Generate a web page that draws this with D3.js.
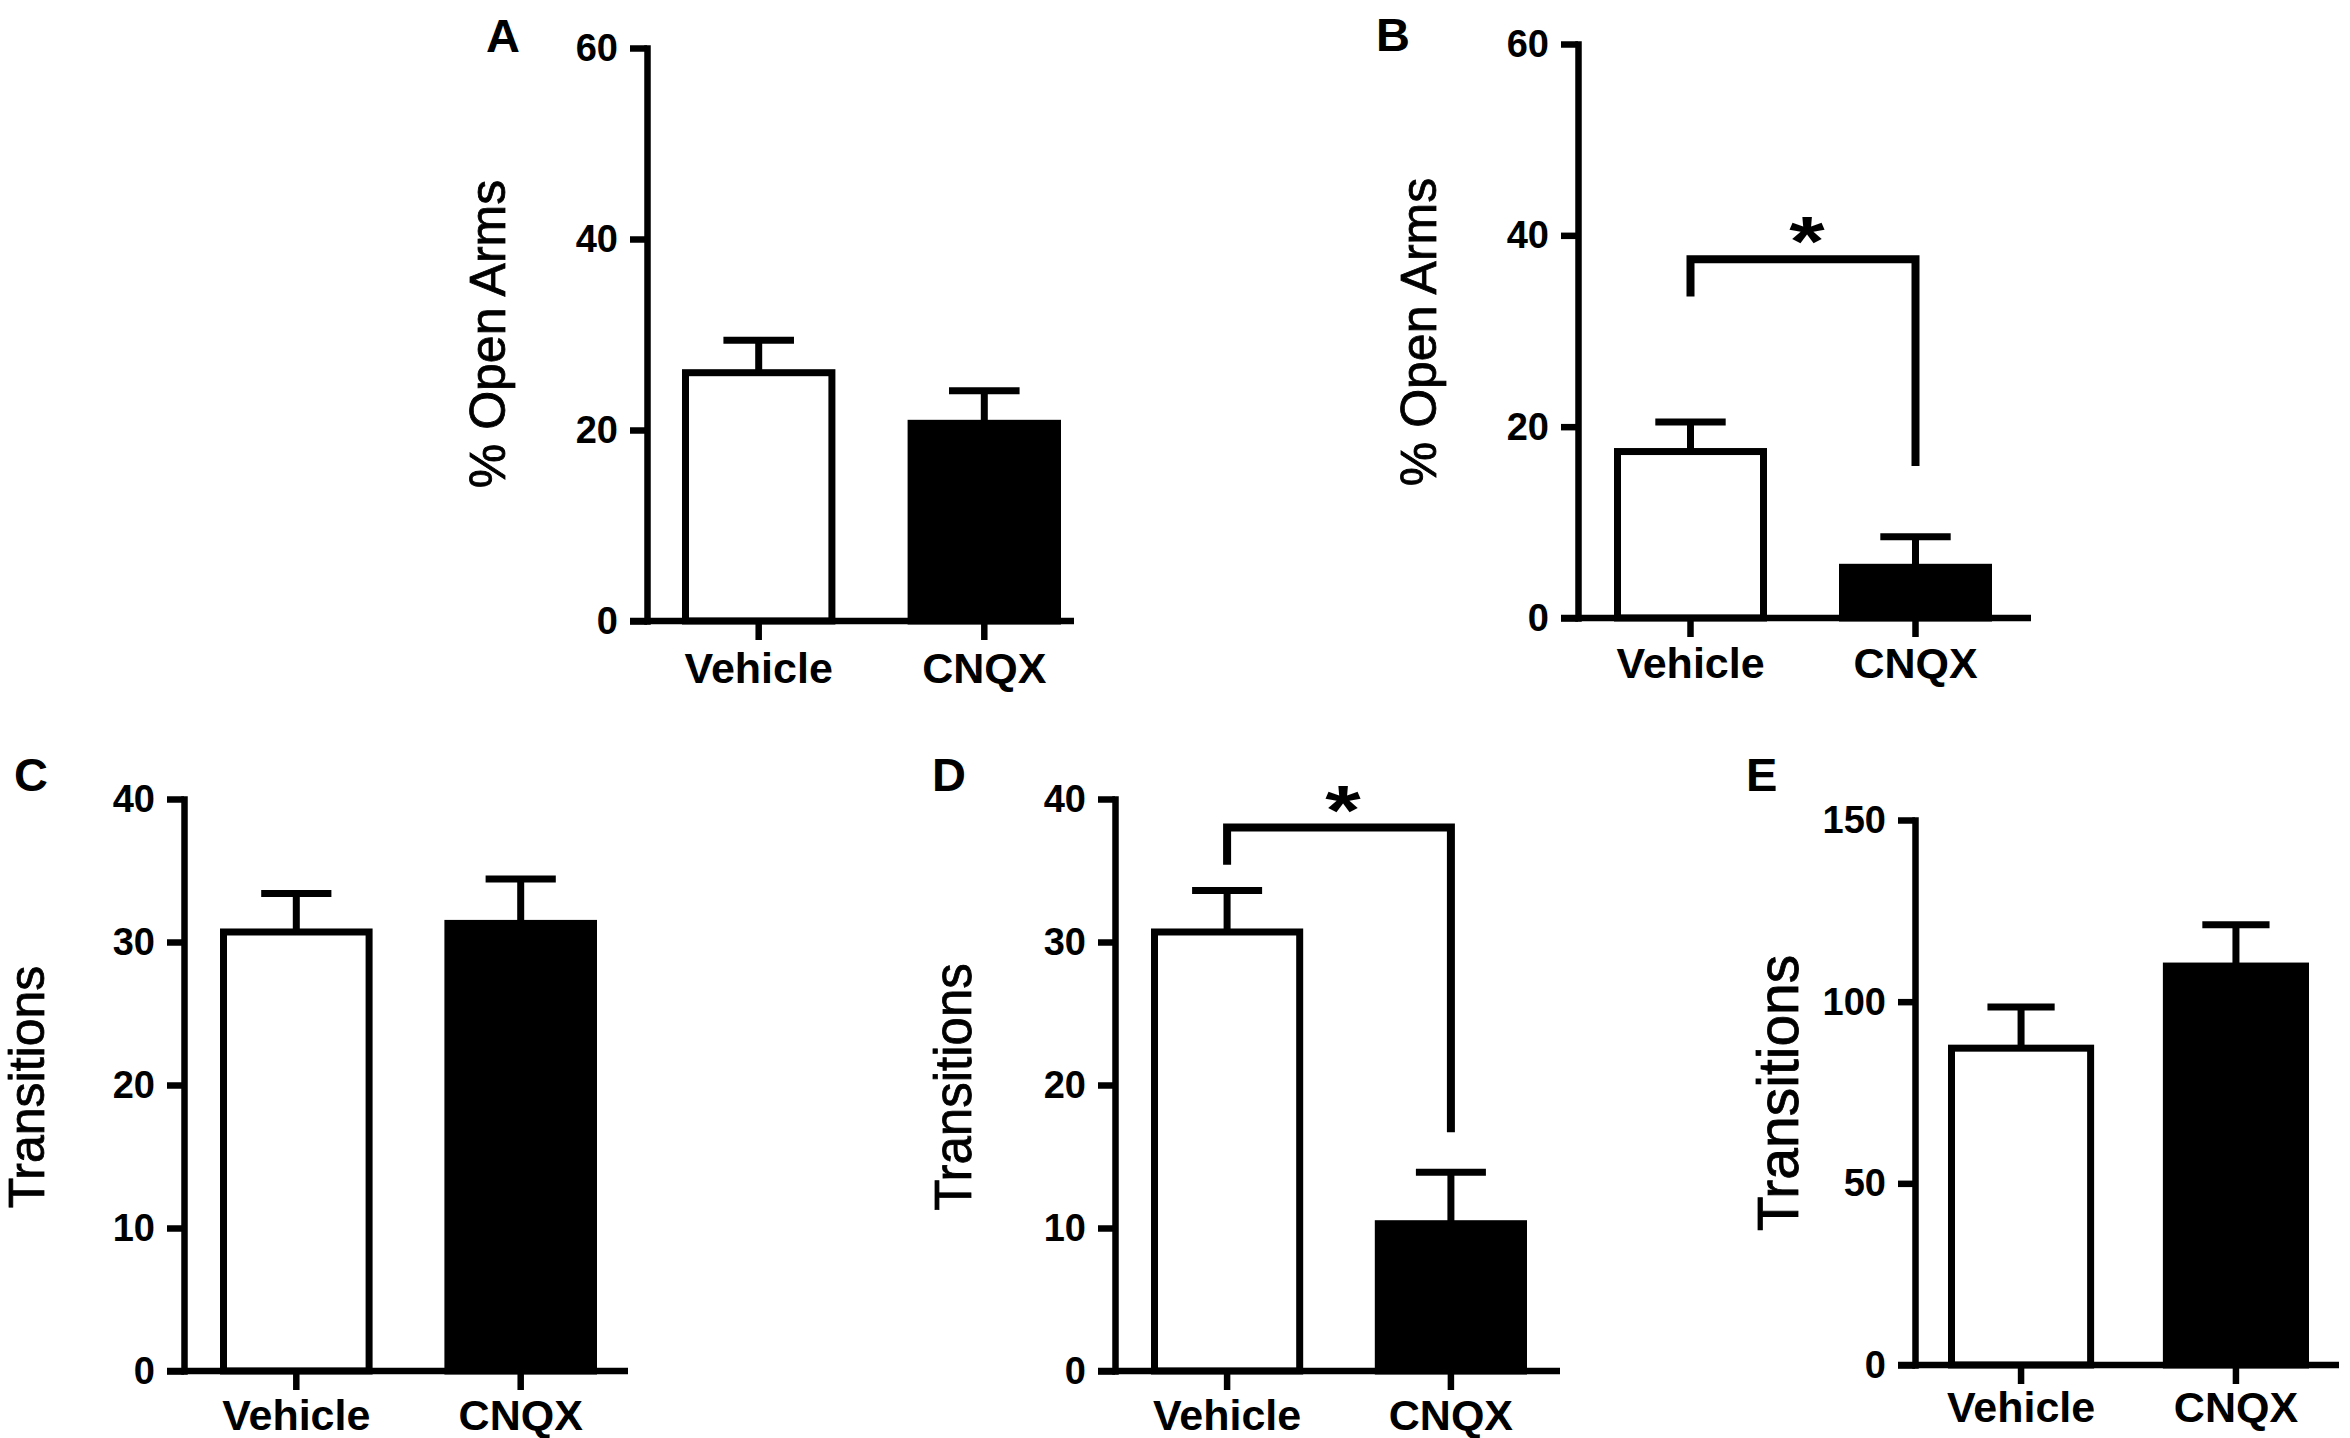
<!DOCTYPE html>
<html>
<head>
<meta charset="utf-8">
<script src="https://cdn.jsdelivr.net/npm/d3@7"></script>
<style>
  body { margin: 0; background: #fff; }
  text { font-family: "Liberation Sans", Arial, sans-serif; fill: #000; }
</style>
</head>
<body>
<svg id="canvas" width="2350" height="1438"></svg>
<script>
// groups on every panel
let categories = ['Vehicle', 'CNQX']

// means and SEM
let meansA = [26.0, 20.7]
let semA = [3.4, 3.4]
let meansB = [17.4, 5.3]
let semB = [3.1, 3.2]
let meansC = [30.7, 31.3]
let semC = [2.7, 3.1]
let meansD = [30.7, 10.3]
let semD = [2.9, 3.6]
let meansE = [87.2, 109.8]
let semE = [11.3, 11.4]

// significance brackets: [bar height, left leg end, right leg end]
let bracketB = [37.5, 33.6, 15.9]
let bracketD = [38.0, 35.4, 16.7]

// tick labels
let ticksAB = [0, 20, 40, 60]
let ticksCD = [0, 10, 20, 30, 40]
let ticksE = [0, 50, 100, 150]

let yTitleArms = '% Open Arms'
let yTitleTrans = 'Transitions'

let svg = d3.select('#canvas')
let SW = 7        // outline width of bars / error bars
let AXW = 6.5     // axis width
let TICK = 17

let panels = [
  { letter: 'A', lx: 486, ly: 52, means: meansA, sem: semA, ticks: ticksAB, title: yTitleArms,
    axisX: 647, right: 1074, top: 48, bottom: 621, barL: 682, barR: 1061,
    labelDy: 62, titleFont: 50, titleX: 505, titleY: 334 },
  { letter: 'B', lx: 1376, ly: 51, means: meansB, sem: semB, ticks: ticksAB, title: yTitleArms,
    axisX: 1578, right: 2031, top: 44, bottom: 618, barL: 1614, barR: 1992,
    labelDy: 60, titleFont: 50, titleX: 1436, titleY: 332, bracket: bracketB },
  { letter: 'C', lx: 14, ly: 791, means: meansC, sem: semC, ticks: ticksCD, title: yTitleTrans,
    axisX: 184, right: 628, top: 799, bottom: 1371, barL: 220, barR: 597,
    labelDy: 59, titleFont: 50, titleX: 44, titleY: 1087 },
  { letter: 'D', lx: 932, ly: 791, means: meansD, sem: semD, ticks: ticksCD, title: yTitleTrans,
    axisX: 1115, right: 1560, top: 799, bottom: 1371, barL: 1151, barR: 1527,
    labelDy: 59, titleFont: 51, titleX: 971, titleY: 1087, bracket: bracketD },
  { letter: 'E', lx: 1746, ly: 791, means: meansE, sem: semE, ticks: ticksE, title: yTitleTrans,
    axisX: 1915, right: 2339, top: 820, bottom: 1365, barL: 1948, barR: 2309,
    labelDy: 57, titleFont: 57, titleX: 1798, titleY: 1093 }
]

let drawPanel = (p) => {
  let g = svg.append('g')
  let x = d3.scaleBand().domain(categories).range([p.barL, p.barR]).paddingInner(0.32)
  let y = d3.scaleLinear().domain([0, d3.max(p.ticks)]).range([p.bottom, p.top])
  let bw = x.bandwidth()
  let capW = bw * 0.46

  let rows = categories.map((c, i) => ({ cat: c, mean: p.means[i], sem: p.sem[i], i: i }))

  // bars
  g.selectAll('rect.bar')
    .data(rows)
    .enter()
    .append('rect')
    .attr('class', 'bar')
    .attr('x', d => x(d.cat) + SW / 2)
    .attr('width', bw - SW)
    .attr('y', d => y(d.mean))
    .attr('height', d => y(0) - y(d.mean))
    .attr('fill', d => d.i === 0 ? '#fff' : '#000')
    .attr('stroke', '#000')
    .attr('stroke-width', SW)

  // error bars (upper only)
  g.selectAll('line.err')
    .data(rows)
    .enter()
    .append('line')
    .attr('x1', d => x(d.cat) + bw / 2)
    .attr('x2', d => x(d.cat) + bw / 2)
    .attr('y1', d => y(d.mean))
    .attr('y2', d => y(d.mean + d.sem))
    .attr('stroke', '#000')
    .attr('stroke-width', SW)
  g.selectAll('line.cap')
    .data(rows)
    .enter()
    .append('line')
    .attr('x1', d => x(d.cat) + bw / 2 - capW / 2)
    .attr('x2', d => x(d.cat) + bw / 2 + capW / 2)
    .attr('y1', d => y(d.mean + d.sem))
    .attr('y2', d => y(d.mean + d.sem))
    .attr('stroke', '#000')
    .attr('stroke-width', SW)

  // y axis
  let yAxis = d3.axisLeft(y).tickValues(p.ticks).tickSize(TICK).tickSizeOuter(0).tickPadding(12)
  let ya = g.append('g').attr('transform', `translate(${p.axisX},0)`).call(yAxis)
  ya.select('.domain').attr('stroke-width', AXW).attr('stroke-linecap', 'square')
  ya.selectAll('.tick line').attr('stroke-width', AXW)
  ya.selectAll('.tick text')
    .attr('dy', '0.33em')
    .style('font-size', '38px')
    .style('font-weight', 'bold')
    .style('font-family', '"Liberation Sans", Arial, sans-serif')
    .attr('fill', '#000')

  // x axis
  g.append('line')
    .attr('x1', p.axisX - TICK).attr('x2', p.right)
    .attr('y1', p.bottom).attr('y2', p.bottom)
    .attr('stroke', '#000').attr('stroke-width', AXW)
  let xAxis = d3.axisBottom(x).tickSize(19).tickSizeOuter(0)
  let xa = g.append('g').attr('transform', `translate(0,${p.bottom})`).call(xAxis)
  xa.select('.domain').remove()
  xa.selectAll('.tick line').attr('stroke-width', AXW)
  xa.selectAll('.tick text')
    .attr('y', p.labelDy).attr('dy', null)
    .style('font-size', '43px')
    .style('font-weight', 'bold')
    .style('font-family', '"Liberation Sans", Arial, sans-serif')
    .attr('fill', '#000')

  // y title
  g.append('text')
    .attr('transform', `translate(${p.titleX},${p.titleY}) rotate(-90)`)
    .attr('text-anchor', 'middle')
    .attr('stroke', '#000')
    .attr('stroke-width', 0.8)
    .style('font-size', p.titleFont + 'px')
    .text(p.title)

  // panel letter
  g.append('text')
    .attr('x', p.lx)
    .attr('y', p.ly)
    .style('font-size', '47px')
    .style('font-weight', 'bold')
    .text(p.letter)

  // significance bracket
  if (p.bracket) {
    let x1 = x(categories[0]) + bw / 2
    let x2 = x(categories[1]) + bw / 2
    g.append('path')
      .attr('d', `M${x1},${y(p.bracket[1])}V${y(p.bracket[0])}H${x2}V${y(p.bracket[2])}`)
      .attr('fill', 'none')
      .attr('stroke', '#000')
      .attr('stroke-width', SW + 1)
    g.append('text')
      .attr('transform', `translate(${(x1 + x2) / 2 + 4},${y(p.bracket[0]) + 7}) scale(1.3,1)`)
      .attr('text-anchor', 'middle')
      .style('font-size', '70px')
      .style('font-weight', 'bold')
      .text('*')
  }
}

panels.forEach(drawPanel)
</script>
</body>
</html>
